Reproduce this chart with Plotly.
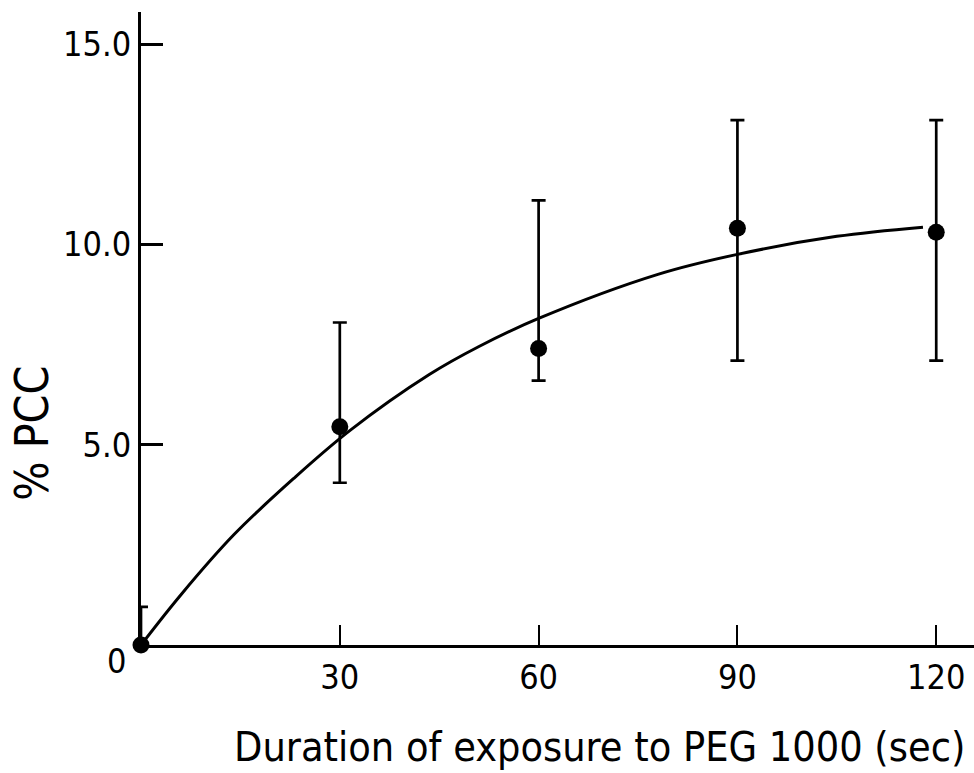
import plotly.graph_objects as go

# Data points (mean % PCC with error bars)
durations = [0, 30, 60, 90, 120]
pcc_mean = [0.0, 5.45, 7.4, 10.4, 10.3]
err_upper = [0.95, 8.05, 11.1, 13.1, 13.1]
err_lower = [0.0, 4.05, 6.6, 7.1, 7.1]

# Fitted curve
curve_x = [0, 6, 14, 23, 31.5, 43.5, 51, 60, 78, 90, 105, 118]
curve_y = [0, 1.25, 2.75, 4.15, 5.35, 6.75, 7.45, 8.15, 9.25, 9.75, 10.2, 10.43]

x_ticks = [30, 60, 90, 120]
x_ticklabels = ["30", "60", "90", "120"]
y_ticks = [5, 10, 15]
y_ticklabels = ["5.0", "10.0", "15.0"]

FONT = "DejaVu Sans Condensed, Liberation Sans Narrow, Arial Narrow, sans-serif"

plus = [u - m for u, m in zip(err_upper, pcc_mean)]
minus = [m - l if l > 0 else 0 for m, l in zip(pcc_mean, err_lower)]

fig = go.Figure()
fig.add_trace(go.Scatter(
    x=curve_x, y=curve_y, mode="lines",
    line=dict(color="black", width=3, shape="spline", smoothing=1.0),
    hoverinfo="skip", showlegend=False, cliponaxis=False,
))
fig.add_trace(go.Scatter(
    x=durations, y=pcc_mean, mode="markers",
    marker=dict(color="black", size=17),
    error_y=dict(type="data", array=plus, arrayminus=minus,
                 color="black", thickness=2.7, width=7, symmetric=False),
    showlegend=False, cliponaxis=False,
))

fig.update_layout(
    width=974, height=773,
    margin=dict(l=141, r=0, t=12, b=128),
    plot_bgcolor="white", paper_bgcolor="white",
    font=dict(family=FONT, color="black", size=34),
)
fig.update_xaxes(
    range=[0, 125.7], showgrid=False, zeroline=False,
    showline=True, linecolor="black", linewidth=3,
    ticks="inside", ticklen=20, tickwidth=2, tickcolor="black",
    tickvals=x_ticks, ticktext=x_ticklabels,
    tickfont=dict(family=FONT, size=34), ticklabelstandoff=0,
    automargin=False,
)
fig.update_yaxes(
    range=[0, 15.8], showgrid=False, zeroline=False,
    showline=True, linecolor="black", linewidth=3,
    ticks="inside", ticklen=22, tickwidth=3, tickcolor="black",
    tickvals=y_ticks, ticktext=y_ticklabels,
    tickfont=dict(family=FONT, size=34), ticklabelstandoff=0,
    automargin=False,
)

fig.add_annotation(text="0", xref="paper", yref="paper", x=-0.016, y=-0.025,
                   xanchor="right", yanchor="middle", showarrow=False,
                   font=dict(family=FONT, size=34))
fig.add_annotation(text="% PCC", xref="paper", yref="paper",
                   x=-0.131, y=0.335, xanchor="center", yanchor="middle",
                   textangle=-90, showarrow=False,
                   font=dict(family=FONT, size=46))
fig.add_annotation(text="Duration of exposure to PEG 1000 (sec)",
                   xref="paper", yref="paper", x=0.551, y=-0.12,
                   xanchor="center", yanchor="top", showarrow=False,
                   font=dict(family=FONT, size=41))

fig.write_html("out.html", config={"displayModeBar": False},
               post_script="document.body.style.margin='0';")
